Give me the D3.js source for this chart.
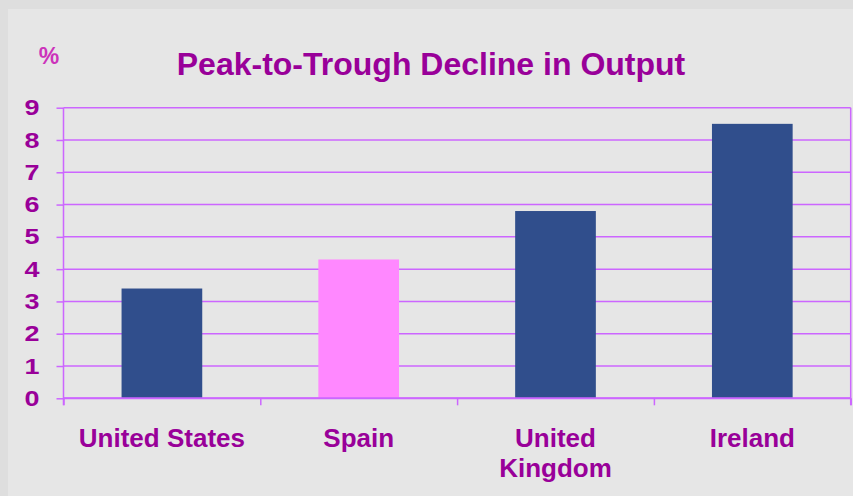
<!DOCTYPE html>
<html>
<head>
<meta charset="utf-8">
<script src="https://cdn.jsdelivr.net/npm/d3@7"></script>
<style>
  body { margin: 0; background: #dedede; }
  svg { display: block; font-family: 'Liberation Sans', Arial, sans-serif; font-weight: bold; }
</style>
</head>
<body>
<svg width="853" height="496"></svg>
<script>
const titleText = 'Peak-to-Trough Decline in Output';
const unitText = '%';
const categories = ['United States', 'Spain', 'United Kingdom', 'Ireland'];
const values = [3.4, 4.3, 5.8, 8.5];
const barColors = ['#304e8c', '#ff88ff', '#304e8c', '#304e8c'];
const yTicks = [0, 1, 2, 3, 4, 5, 6, 7, 8, 9];

const svg = d3.select('svg');
const width = +svg.attr('width');
const height = +svg.attr('height');

// inner panel (lighter gray), outer strip is the body colour
svg.append('rect')
  .attr('x', 8).attr('y', 9)
  .attr('width', width - 8).attr('height', height - 9)
  .attr('fill', '#e6e6e6');

const margin = { top: 107.7, right: 2.3, bottom: 97.7, left: 63.5 };
const innerWidth = width - margin.left - margin.right;
const innerHeight = height - margin.top - margin.bottom;

const lineColor = '#cc66ff';
const textColor = '#990099';

const xScale = d3.scaleBand()
  .domain(categories)
  .range([0, innerWidth])
  .paddingInner(0.59)
  .paddingOuter(0.295);

// band boundaries for the tick marks on the x axis
const xEdge = d3.scaleLinear()
  .domain([0, categories.length])
  .range([0, innerWidth]);

const yScale = d3.scaleLinear()
  .domain([0, 9])
  .range([innerHeight, 0]);

const g = svg.append('g')
  .attr('transform', `translate(${margin.left},${margin.top})`);

// gridlines
g.append('g')
  .selectAll('line').data(yTicks)
  .enter().append('line')
    .attr('x1', 0).attr('x2', innerWidth)
    .attr('y1', d => yScale(d)).attr('y2', d => yScale(d))
    .attr('stroke', lineColor)
    .attr('stroke-width', 1.5);

// right border of plot area
g.append('line')
  .attr('x1', innerWidth).attr('x2', innerWidth)
  .attr('y1', 0).attr('y2', innerHeight + 7)
  .attr('stroke', lineColor)
  .attr('stroke-width', 1.5);

// bars
g.selectAll('rect.bar').data(values)
  .enter().append('rect')
    .attr('class', 'bar')
    .attr('x', (d, i) => xScale(categories[i]))
    .attr('width', xScale.bandwidth())
    .attr('y', d => yScale(d))
    .attr('height', d => innerHeight - yScale(d))
    .attr('fill', (d, i) => barColors[i]);

// y axis
const yAxisG = g.append('g')
  .call(d3.axisLeft(yScale).tickValues(yTicks).tickSize(7).tickPadding(17));
yAxisG.select('.domain')
  .attr('d', `M0,0V${innerHeight + 7}`)
  .attr('stroke', lineColor)
  .attr('stroke-width', 1.5);
yAxisG.selectAll('.tick line').attr('stroke', lineColor).attr('stroke-width', 1.5);
// digits in the original are drawn wide
yAxisG.selectAll('.tick text')
  .attr('font-size', 22)
  .attr('font-weight', 'bold')
  .attr('font-family', "'Liberation Sans', Arial, sans-serif")
  .attr('fill', textColor)
  .attr('textLength', 15)
  .attr('lengthAdjust', 'spacingAndGlyphs');

// x axis tick marks at band edges
const xAxisG = g.append('g')
  .attr('transform', `translate(0,${innerHeight})`)
  .call(d3.axisBottom(xEdge).ticks(categories.length).tickSize(7).tickFormat(''));
xAxisG.select('.domain').remove();
xAxisG.selectAll('.tick text').remove();
xAxisG.selectAll('.tick line').attr('stroke', lineColor).attr('stroke-width', 1.5);
g.append('line')
  .attr('x1', 0).attr('x2', innerWidth)
  .attr('y1', innerHeight).attr('y2', innerHeight)
  .attr('stroke', lineColor)
  .attr('stroke-width', 2);

// category labels, wrapped when too wide for the band
const labels = g.append('g')
  .attr('transform', `translate(0,${innerHeight})`);
categories.forEach(c => {
  const cx = xScale(c) + xScale.bandwidth() / 2;
  const t = labels.append('text')
    .attr('x', cx)
    .attr('y', 49)
    .attr('text-anchor', 'middle')
    .attr('font-size', 26)
    .attr('fill', textColor)
    .text(c);
  if (t.node().getComputedTextLength() > 180) {
    const words = c.split(' ');
    t.text(null);
    words.forEach((w, i) => {
      t.append('tspan')
        .attr('x', cx)
        .attr('dy', i === 0 ? 0 : 30)
        .text(w);
    });
  }
});

// title
svg.append('text')
  .attr('x', 431)
  .attr('y', 74.5)
  .attr('text-anchor', 'middle')
  .attr('font-size', 32)
  .attr('fill', textColor)
  .text(titleText);

// unit label
svg.append('text')
  .attr('x', 49)
  .attr('y', 64)
  .attr('text-anchor', 'middle')
  .attr('font-size', 23)
  .attr('fill', '#cc33bb')
  .text(unitText);
</script>
</body>
</html>
